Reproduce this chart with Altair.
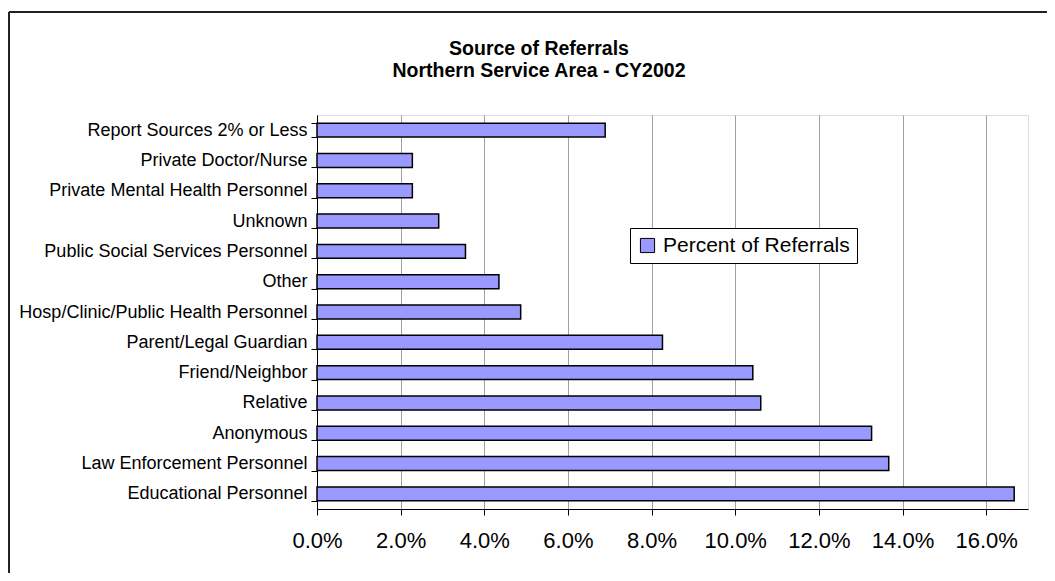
import altair as alt
import pandas as pd

categories = [
    "Report Sources 2% or Less",
    "Private Doctor/Nurse",
    "Private Mental Health Personnel",
    "Unknown",
    "Public Social Services Personnel",
    "Other",
    "Hosp/Clinic/Public Health Personnel",
    "Parent/Legal Guardian",
    "Friend/Neighbor",
    "Relative",
    "Anonymous",
    "Law Enforcement Personnel",
    "Educational Personnel",
]
percent = [0.0689, 0.0228, 0.0228, 0.0291, 0.0355, 0.0435, 0.0487,
           0.0826, 0.1042, 0.1061, 0.1326, 0.1367, 0.1667]
series_name = "Percent of Referrals"
x_ticks = [0.0, 0.02, 0.04, 0.06, 0.08, 0.10, 0.12, 0.14, 0.16]
title_lines = ["Source of Referrals", "Northern Service Area - CY2002"]

df = pd.DataFrame({"source": categories, "pct": percent, "series": series_name})

FONT = "Liberation Sans"

bars = alt.Chart(df).mark_bar(stroke="black", strokeWidth=1.5).encode(
    y=alt.Y("source:N", sort=categories,
            scale=alt.Scale(paddingInner=0.54, paddingOuter=0.27),
            axis=alt.Axis(title=None, tickBand="extent", grid=False,
                          labelFontSize=18, labelFont=FONT, labelColor="black",
                          domainColor="black", tickColor="black", tickSize=6,
                          labelPadding=4, labelLimit=400)),
    x=alt.X("pct:Q", scale=alt.Scale(domain=[0, 0.17], nice=False),
            axis=alt.Axis(title=None, values=x_ticks, format=".1%",
                          labelFontSize=22, labelFont=FONT, labelColor="black",
                          domainColor="black", tickColor="black", tickSize=6,
                          labelPadding=15, gridColor="#a0a0a0", gridWidth=1,
                          labelFlush=False)),
    color=alt.Color("series:N", scale=alt.Scale(range=["#9999FF"]),
                    legend=alt.Legend(title=None, orient="none", legendX=313, legendY=113,
                                      strokeColor="black", fillColor="white",
                                      padding=7, symbolType="square", symbolSize=200,
                                      symbolStrokeColor="black", symbolStrokeWidth=1,
                                      symbolOpacity=1, labelLimit=400,
                                      labelFontSize=21, labelFont=FONT, labelColor="black",
                                      labelOffset=5)),
)

frame = pd.DataFrame({"k": [0]})
border_top = alt.Chart(frame).mark_rule(color="#222", strokeWidth=2).encode(
    x=alt.value(-308), x2=alt.value(900), y=alt.value(-103))
border_left = alt.Chart(frame).mark_rule(color="#222", strokeWidth=2).encode(
    x=alt.value(-308), y=alt.value(-103), y2=alt.value(700))

title1 = alt.Chart(frame).mark_text(font=FONT, fontSize=19.5, fontWeight="bold",
                                    color="black", align="center", baseline="alphabetic").encode(
    x=alt.value(222), y=alt.value(-60), text=alt.value(title_lines[0]))
title2 = alt.Chart(frame).mark_text(font=FONT, fontSize=19.5, fontWeight="bold",
                                    color="black", align="center", baseline="alphabetic").encode(
    x=alt.value(222), y=alt.value(-38), text=alt.value(title_lines[1]))

chart = alt.layer(bars, border_top, border_left, title1, title2).properties(
    width=711, height=394,
    autosize=alt.AutoSizeParams(type="none"),
    padding={"left": 309, "top": 107, "right": 19, "bottom": 64},
).configure_view(stroke="#a0a0a0", strokeWidth=1).configure(background="white")

chart.save("out.html", embed_options={"renderer": "svg", "actions": False})
